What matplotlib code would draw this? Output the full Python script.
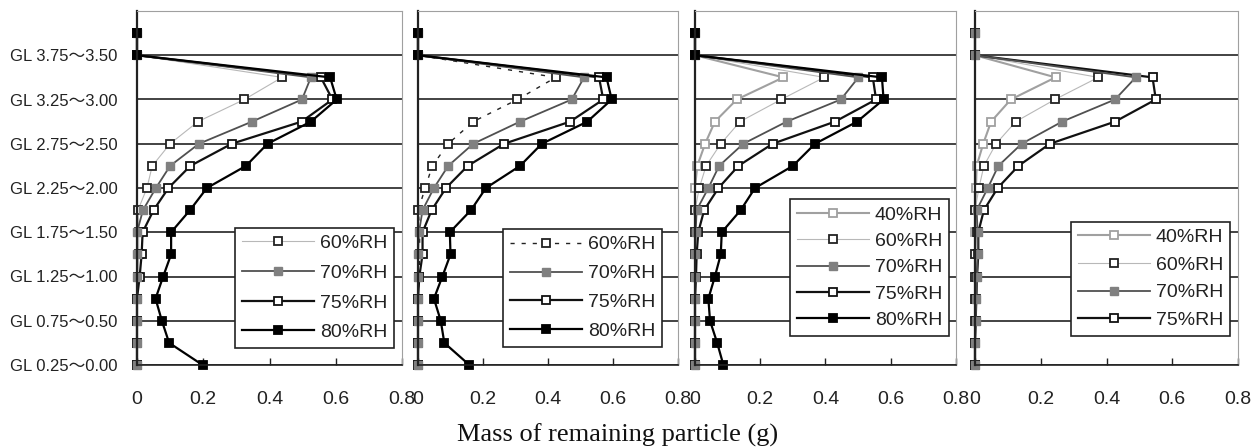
import matplotlib
matplotlib.use("Agg")
import matplotlib.pyplot as plt

# ==========================================================
# Data (mass of remaining particle, g) - level 0 = bottom
# ==========================================================

levels = list(range(16))
gl_labels = ["GL 0.25～0.00", "GL 0.75～0.50", "GL 1.25～1.00", "GL 1.75～1.50",
             "GL 2.25～2.00", "GL 2.75～2.50", "GL 3.25～3.00", "GL 3.75～3.50"]
x_ticks = [0, 0.2, 0.4, 0.6, 0.8]
x_ticklabels = ["0", "0.2", "0.4", "0.6", "0.8"]

p1_60 = [0, 0, 0, 0, 0.003, 0.005, 0.005, 0.003, 0.030, 0.046, 0.100, 0.184, 0.324, 0.438, 0, 0]
p1_70 = [0, 0, 0, 0, 0, 0, 0, 0.018, 0.057, 0.100, 0.187, 0.347, 0.498, 0.525, 0, 0]
p1_75 = [0, 0, 0, 0, 0.008, 0.014, 0.017, 0.050, 0.095, 0.161, 0.286, 0.497, 0.590, 0.555, 0, 0]
p1_80 = [0.198, 0.097, 0.075, 0.056, 0.079, 0.103, 0.103, 0.160, 0.211, 0.329, 0.394, 0.525, 0.603, 0.583, 0, 0]

p2_60 = [0, 0, 0, 0, 0.003, 0.005, 0.005, 0.001, 0.022, 0.044, 0.093, 0.170, 0.306, 0.424, 0, 0]
p2_70 = [0, 0, 0, 0, 0, 0, 0.003, 0.014, 0.049, 0.093, 0.170, 0.314, 0.473, 0.511, 0, 0]
p2_75 = [0, 0, 0, 0, 0.004, 0.014, 0.014, 0.042, 0.086, 0.153, 0.265, 0.468, 0.570, 0.557, 0, 0]
p2_80 = [0.158, 0.081, 0.070, 0.049, 0.075, 0.100, 0.098, 0.163, 0.209, 0.314, 0.381, 0.521, 0.596, 0.580, 0, 0]

p3_40 = [0, 0, 0, 0, 0, 0, 0, 0, 0, 0.007, 0.031, 0.061, 0.128, 0.271, 0, 0]
p3_60 = [0, 0, 0, 0, 0, 0, 0, 0, 0.013, 0.034, 0.079, 0.138, 0.264, 0.396, 0, 0]
p3_70 = [0, 0, 0, 0, 0, 0, 0.002, 0.005, 0.041, 0.074, 0.148, 0.281, 0.447, 0.501, 0, 0]
p3_75 = [0, 0, 0, 0, 0.003, 0.005, 0.010, 0.028, 0.072, 0.133, 0.238, 0.429, 0.555, 0.545, 0, 0]
p3_80 = [0.087, 0.068, 0.046, 0.041, 0.061, 0.079, 0.082, 0.140, 0.184, 0.300, 0.368, 0.497, 0.578, 0.573, 0, 0]

p4_40 = [0, 0, 0, 0, 0, 0, 0, 0, 0.003, 0.005, 0.025, 0.049, 0.109, 0.245, 0, 0]
p4_60 = [0, 0, 0, 0, 0, 0, 0.005, 0, 0.012, 0.027, 0.064, 0.124, 0.243, 0.375, 0, 0]
p4_70 = [0, 0, 0.002, 0.004, 0.006, 0.008, 0.008, 0.005, 0.039, 0.071, 0.142, 0.265, 0.426, 0.489, 0, 0]
p4_75 = [0, 0, 0.002, 0.004, 0.006, 0.010, 0.010, 0.027, 0.069, 0.132, 0.228, 0.426, 0.550, 0.540, 0, 0]

# ==========================================================
# Styles
# ==========================================================

MS = 6
S40 = dict(color="#a0a0a0", lw=1.5, marker="s", ms=MS, mfc="white", mec="#a0a0a0", mew=1.3, zorder=2)
S60 = dict(color="#b8b8b8", lw=0.8, marker="s", ms=MS, mfc="white", mec="#222222", mew=1.3, zorder=2.1)
S60D = dict(color="#222222", lw=1.0, ls=(0, (3, 5)), marker="s", ms=MS, mfc="white", mec="#222222", mew=1.3, zorder=2.1)
S70 = dict(color="#505050", lw=1.3, marker="s", ms=MS, mfc="#808080", mec="#808080", mew=1.0, zorder=2.3)
S75 = dict(color="#111111", lw=1.6, marker="s", ms=MS, mfc="white", mec="#111111", mew=1.3, zorder=2.2)
S80 = dict(color="#000000", lw=1.6, marker="s", ms=MS, mfc="black", mec="black", mew=1.3, zorder=2.4)

# (series, legend anchor, legend label spacing)
panels = [
    ([(p1_60, "60%RH", S60), (p1_70, "70%RH", S70), (p1_75, "75%RH", S75), (p1_80, "80%RH", S80)], (0.970, 0.048), 0.62),
    ([(p2_60, "60%RH", S60D), (p2_70, "70%RH", S70), (p2_75, "75%RH", S75), (p2_80, "80%RH", S80)], (0.938, 0.051), 0.58),
    ([(p3_40, "40%RH", S40), (p3_60, "60%RH", S60), (p3_70, "70%RH", S70), (p3_75, "75%RH", S75), (p3_80, "80%RH", S80)], (0.973, 0.082), 0.45),
    ([(p4_40, "40%RH", S40), (p4_60, "60%RH", S60), (p4_70, "70%RH", S70), (p4_75, "75%RH", S75)], (0.970, 0.082), 0.52),
]

lefts = [137, 418, 695, 975]
widths = [265, 260, 261, 263]
W, H = 1255, 448

SANS = ["Liberation Sans", "Noto Sans CJK JP"]

fig = plt.figure(figsize=(12.55, 4.48), dpi=100)

for i, (series, anchor, lspace) in enumerate(panels):
    ax = fig.add_axes([lefts[i] / W, 83 / H, widths[i] / W, 354 / H])
    for vals, lab, st in series:
        ax.plot(vals, levels, label=lab, clip_on=False, **st)

    ax.set_xlim(0, 0.8)
    ax.set_ylim(0, 16)
    ax.set_yticks(range(0, 15, 2))
    ax.grid(axis="y", color="#222222", lw=1.2, zorder=1)
    ax.set_axisbelow(True)

    ax.set_xticks(x_ticks)
    ax.set_xticklabels(x_ticklabels, family=SANS, fontsize=14, color="#222222")
    ax.tick_params(axis="x", direction="in", length=5, width=1.0, pad=19, color="#222222")
    if i == 0:
        ax.set_yticklabels(gl_labels, family=SANS, fontsize=12, color="#222222")
        ax.tick_params(axis="y", length=0, pad=14)
    else:
        ax.set_yticklabels([])
        ax.tick_params(axis="y", length=0)

    ax.spines["left"].set_color("#222222")
    ax.spines["left"].set_linewidth(1.6)
    ax.spines["bottom"].set_color("#222222")
    ax.spines["bottom"].set_linewidth(1.2)
    ax.spines["top"].set_color("#a0a0a0")
    ax.spines["right"].set_color("#a0a0a0")

    leg = ax.legend(loc="lower right", bbox_to_anchor=anchor, borderaxespad=0,
                    prop={"family": SANS, "size": 14}, handlelength=3.7,
                    handletextpad=0.3, labelspacing=lspace, borderpad=0.35,
                    fancybox=False, framealpha=1, edgecolor="#222222")
    leg.get_frame().set_linewidth(1.2)
    for t in leg.get_texts():
        t.set_color("#222222")

fig.text(617.5 / W, 6 / H, "Mass of remaining particle (g)", ha="center", va="baseline",
         family="Liberation Serif", fontsize=19, color="#111111")

fig.savefig("out.png", dpi=100)
